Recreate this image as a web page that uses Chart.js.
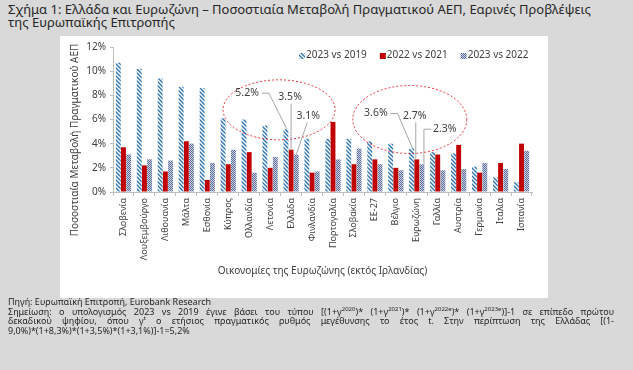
<!DOCTYPE html>
<html><head><meta charset="utf-8">
<script src="https://cdn.jsdelivr.net/npm/chart.js@4"></script>
<style>
html,body{margin:0;padding:0}
body{background:#d9d9d9;width:633px;height:370px;overflow:hidden;font-family:"Noto Sans",sans-serif;color:#262626;position:relative}
#title{position:absolute;left:8px;top:3px;font-size:13px;line-height:13px;color:#262626}
#panel{position:absolute;left:60px;top:36px;width:488px;height:262px;background:#fff}
#notes{position:absolute;left:8px;top:297px;width:606px;font-size:9px;line-height:9.6px;color:#262626}
#notes .j{text-align:justify;text-align-last:justify}
sup{font-size:6px;line-height:0;vertical-align:4px}
</style></head>
<body>
<div id="title">Σχήμα 1: Ελλάδα και Ευρωζώνη – Ποσοστιαία Μεταβολή Πραγματικού ΑΕΠ, Εαρινές Προβλέψεις<br>της Ευρωπαϊκής Επιτροπής</div>
<div id="panel"><canvas id="c" width="488" height="262"></canvas></div>
<div id="notes">
<div>Πηγή: Ευρωπαϊκή Επιτροπή, Eurobank Research</div>
<div class="j">Σημείωση: ο υπολογισμός 2023 vs 2019 έγινε βάσει του τύπου [(1+γ<sup>2020</sup>)* (1+γ<sup>2021</sup>)* (1+γ<sup>2022e</sup>)* (1+γ<sup>2023e</sup>)]-1 σε επίπεδο πρώτου</div>
<div class="j">δεκαδικού ψηφίου, όπου γ<sup>t</sup> ο ετήσιος πραγματικός ρυθμός μεγέθυνσης το έτος t. Στην περίπτωση της Ελλάδας [(1-</div>
<div>9,0%)*(1+8,3%)*(1+3,5%)*(1+3,1%)]-1=5,2%</div>
</div>
<script>
const categories = ['Σλοβενία','Λουξεμβούργο','Λιθουανία','Μάλτα','Εσθονία','Κύπρος','Ολλανδία','Λετονία','Ελλάδα','Φινλανδία','Πορτογαλία','Σλοβακία','ΕΕ-27','Βέλγιο','Ευρωζώνη','Γαλλία','Αυστρία','Γερμανία','Ιταλία','Ισπανία'];
const seriesNames = ['2023 vs 2019','2022 vs 2021','2023 vs 2022'];
const v2023vs2019 = [10.7,10.2,9.4,8.7,8.6,6.1,6.0,5.5,5.2,4.4,4.4,4.4,4.2,4.0,3.6,3.3,3.2,2.1,1.2,0.8];
const v2022vs2021 = [3.7,2.2,1.7,4.2,1.0,2.3,3.3,2.0,3.5,1.6,5.8,2.3,2.7,2.0,2.7,3.1,3.9,1.6,2.4,4.0];
const v2023vs2022 = [3.1,2.7,2.6,4.0,2.4,3.5,1.6,2.9,3.1,1.7,2.7,3.6,2.3,1.8,2.3,1.8,1.9,2.4,1.9,3.4];
const yTicks = [0,2,4,6,8,10,12];
const yTitle = 'Ποσοστιαία Μεταβολή Πραγματικού ΑΕΠ';
const xTitle = 'Οικονομίες της Ευρωζώνης (εκτός Ιρλανδίας)';
const highlighted = ['Ελλάδα','Ευρωζώνη'];

function hatch(){
  const c=document.createElement('canvas');c.width=4;c.height=4;const x=c.getContext('2d');
  x.fillStyle='#fff';x.fillRect(0,0,4,4);x.strokeStyle='#2e75b6';x.lineWidth=1.4;
  x.beginPath();x.moveTo(-1,-1);x.lineTo(5,5);x.moveTo(-1,3);x.lineTo(1,5);x.moveTo(3,-1);x.lineTo(5,1);x.stroke();
  return x.createPattern(c,'repeat');
}
function checker(){
  const c=document.createElement('canvas');c.width=2;c.height=2;const x=c.getContext('2d');
  x.fillStyle='#c9d1e3';x.fillRect(0,0,2,2);x.fillStyle='#5d6f98';x.fillRect(0,0,1,1);x.fillRect(1,1,1,1);
  return x.createPattern(c,'repeat');
}
const FONT='"Noto Sans", sans-serif';
const TXT='#404040';

const annot = {
  id:'annot',
  afterDraw(chart){
    const ctx=chart.ctx, xs=chart.scales.x, ys=chart.scales.y, ca=chart.chartArea;
    ctx.save();
    ctx.fillStyle=TXT;ctx.font='10px '+FONT;ctx.textAlign='center';ctx.textBaseline='middle';
    ctx.translate(15,104);ctx.rotate(-Math.PI/2);ctx.fillText(yTitle,0,0);ctx.restore();
    ctx.save();
    ctx.fillStyle=TXT;ctx.font='10px '+FONT;ctx.textAlign='center';ctx.textBaseline='middle';
    ctx.fillText(xTitle,(ca.left+ca.right)/2,235);
    // legend
    ctx.font='10px '+FONT;ctx.textAlign='left';
    let lx=239;const ly=19;
    chart.data.datasets.forEach(ds=>{
      ctx.fillStyle=ds.backgroundColor;ctx.fillRect(lx,ly-2,6,6);
      ctx.fillStyle=TXT;ctx.fillText(ds.label,lx+7,ly);
      lx+=7+ctx.measureText(ds.label).width+13;
    });
    const m0=chart.getDatasetMeta(0),m1=chart.getDatasetMeta(1),m2=chart.getDatasetMeta(2);
    const ell=[{dx:-12,v:6.8,rx:56,ry:30},{dx:-7,v:6.0,rx:57,ry:34}];
    highlighted.forEach((name,k)=>{
      const i=categories.indexOf(name);
      const xc=xs.getPixelForValue(i);
      const b0=m0.data[i],b1=m1.data[i],b2=m2.data[i];
      const e=ell[k];
      ctx.strokeStyle='#e8323c';ctx.lineWidth=1;ctx.setLineDash([2,2]);
      ctx.beginPath();ctx.ellipse(xc+e.dx,ys.getPixelForValue(e.v),e.rx,e.ry,0,0,Math.PI*2);ctx.stroke();
      ctx.setLineDash([]);
      ctx.strokeStyle='#a6a6a6';ctx.lineWidth=1;
      ctx.fillStyle=TXT;ctx.font='10.5px '+FONT;ctx.textBaseline='middle';
      const t0=v2023vs2019[i].toFixed(1)+'%',t1=v2022vs2021[i].toFixed(1)+'%',t2=v2023vs2022[i].toFixed(1)+'%';
      if(k===0){
        ctx.textAlign='right';ctx.fillText(t0,b0.x-27,b0.y-36);
        ctx.beginPath();ctx.moveTo(b0.x-24,b0.y-36);ctx.lineTo(b0.x-17,b0.y-36);ctx.lineTo(b0.x+1,b0.y);ctx.stroke();
        ctx.textAlign='center';ctx.fillText(t1,b1.x-1,b1.y-53);
        ctx.beginPath();ctx.moveTo(b1.x,b1.y-46);ctx.lineTo(b1.x,b1.y);ctx.stroke();
        ctx.fillText(t2,b2.x+12,b2.y-39);
        ctx.beginPath();ctx.moveTo(b2.x+11,b2.y-32);ctx.lineTo(b2.x,b2.y);ctx.stroke();
      } else {
        ctx.textAlign='right';ctx.fillText(t0,b0.x-24,b0.y-35);
        ctx.beginPath();ctx.moveTo(b0.x-21,b0.y-35);ctx.lineTo(b0.x-14,b0.y-35);ctx.lineTo(b0.x+1,b0.y);ctx.stroke();
        ctx.textAlign='center';ctx.fillText(t1,b1.x-2,b1.y-43);
        ctx.beginPath();ctx.moveTo(b1.x-1,b1.y-37);ctx.lineTo(b1.x-1,b1.y);ctx.stroke();
        ctx.textAlign='left';ctx.fillText(t2,b2.x+11,b2.y-35);
        ctx.beginPath();ctx.moveTo(b2.x+9,b2.y-35);ctx.lineTo(b2.x+2,b2.y-35);ctx.lineTo(b2.x+2,b2.y);ctx.stroke();
      }
    });
    ctx.restore();
  }
};

new Chart(document.getElementById('c'),{
  type:'bar',
  data:{labels:categories,datasets:[
    {label:seriesNames[0],data:v2023vs2019,backgroundColor:hatch(),borderWidth:0},
    {label:seriesNames[1],data:v2022vs2021,backgroundColor:'#c00000',borderWidth:0},
    {label:seriesNames[2],data:v2023vs2022,backgroundColor:checker(),borderWidth:0}
  ]},
  options:{
    responsive:false,animation:false,
    layout:{padding:{left:0,top:11,right:16,bottom:0}},
    datasets:{bar:{categoryPercentage:0.74,barPercentage:0.95}},
    plugins:{
      tooltip:{enabled:false},
      legend:{display:false}
    },
    scales:{
      x:{offset:true,
        grid:{offset:true,drawOnChartArea:false,drawTicks:true,tickLength:4,color:'#bfbfbf'},
        border:{color:'#bfbfbf'},
        ticks:{minRotation:90,maxRotation:90,autoSkip:false,padding:2,color:TXT,font:{family:FONT,size:9}},
        afterFit(s){s.height=106;}
      },
      y:{min:0,max:12,
        afterBuildTicks(s){s.ticks=yTicks.map(v=>({value:v}));},
        grid:{drawOnChartArea:false,drawTicks:true,tickLength:3,color:'#bfbfbf'},
        border:{color:'#bfbfbf'},
        ticks:{padding:4,color:TXT,font:{family:FONT,size:10},callback:v=>v+'%'},
        afterFit(s){s.width=53;}
      }
    }
  },
  plugins:[annot]
});
</script>
</body></html>
